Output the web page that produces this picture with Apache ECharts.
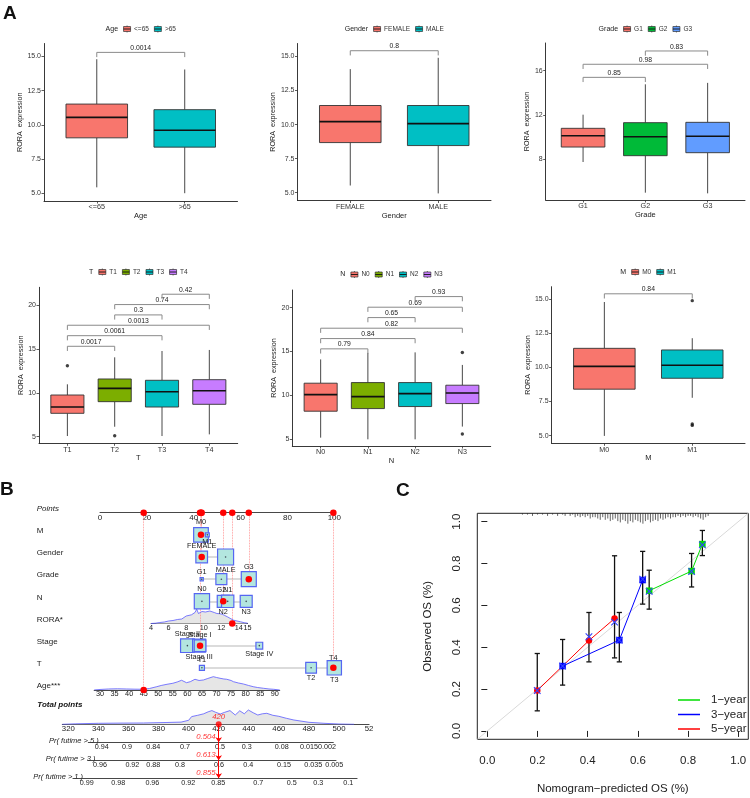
<!DOCTYPE html>
<html>
<head>
<meta charset="utf-8">
<script src="https://cdn.jsdelivr.net/npm/echarts@6/dist/echarts.min.js"></script>
<style>html,body{margin:0;padding:0;background:#fff}#main{width:750px;height:798px}</style>
</head>
<body>
<div id="main"></div>
<script>
var FONT = '"Liberation Sans", Arial, Helvetica, sans-serif';

// ---------- A: boxplots (low whisker, Q1, median, Q3, high whisker) ----------
var ageCats = ['<=65', '>65'];
var ageBox = [[5.43, 9.05, 10.55, 11.52, 14.8], [5.0, 8.37, 9.6, 11.11, 14.05]];
var ageOut = [];
var ageTests = [[0, 1, 15.3, '0.0014']];

var genderCats = ['FEMALE', 'MALE'];
var genderBox = [[5.53, 8.68, 10.22, 11.4, 14.07], [4.95, 8.46, 10.07, 11.4, 14.9]];
var genderOut = [];
var genderTests = [[0, 1, 15.42, '0.8']];

var gradeCats = ['G1', 'G2', 'G3'];
var gradeBox = [[7.76, 9.11, 10.13, 10.8, 12.03], [4.99, 8.33, 10.04, 11.31, 14.77], [4.93, 8.6, 10.08, 11.34, 14.9]];
var gradeOut = [];
var gradeTests = [[0, 1, 15.4, '0.85'], [0, 2, 16.58, '0.98'], [1, 2, 17.78, '0.83']];

var tCats = ['T1', 'T2', 'T3', 'T4'];
var tBox = [[5.08, 7.67, 8.39, 9.76, 10.98], [6.14, 9.0, 10.52, 11.59, 14.06], [5.08, 8.39, 10.14, 11.44, 14.78], [5.27, 8.7, 10.25, 11.51, 14.9]];
var tOut = [[0, 13.1], [1, 5.11]];
var tTests = [[0, 1, 15.32, '0.0017'], [0, 2, 16.53, '0.0061'], [0, 3, 17.72, '0.0013'], [1, 2, 18.9, '0.3'], [1, 3, 20.08, '0.74'], [2, 3, 21.26, '0.42']];

var nCats = ['N0', 'N1', 'N2', 'N3'];
var nBox = [[5.19, 8.2, 10.09, 11.39, 14.1], [5.0, 8.5, 9.86, 11.46, 14.84], [5.0, 8.73, 10.2, 11.46, 14.9], [6.45, 9.07, 10.28, 11.16, 13.47]];
var nOut = [[3, 14.88], [3, 5.6]];
var nTests = [[0, 1, 15.3, '0.79'], [0, 2, 16.47, '0.84'], [0, 3, 17.65, '0.82'], [1, 2, 18.86, '0.65'], [1, 3, 20.04, '0.69'], [2, 3, 21.25, '0.93']];

var mCats = ['M0', 'M1'];
var mBox = [[4.98, 8.4, 10.07, 11.39, 14.78], [7.77, 9.2, 10.15, 11.27, 12.13]];
var mOut = [[1, 14.88], [1, 5.75], [1, 5.85]];
var mTests = [[0, 1, 15.38, '0.84']];

var hue2 = ['#F8766D', '#00BFC4'];
var hue3 = ['#F8766D', '#00BA38', '#619CFF'];
var hue4 = ['#F8766D', '#7CAE00', '#00BFC4', '#C77CFF'];

// ---------- B: nomogram ----------
var nomoRowNames = ['Points', 'M', 'Gender', 'Grade', 'N', 'RORA*', 'Stage', 'T', 'Age***'];
var pointsTicks = [0, 20, 40, 60, 80, 100];
var mLevels = ['M0', 'M1'], mPts = [43.1, 45.8], mN = [84, 6];
var genderLevels = ['FEMALE', 'MALE'], genderPts = [43.4, 53.6], genderN = [53, 100];
var gradeLevels = ['G1', 'G2', 'G3'], gradePts = [43.4, 51.8, 63.5], gradeN = [4, 47, 88];
var nLevels = ['N0', 'N1', 'N2', 'N3'], nPts = [43.5, 54.5, 52.6, 62.4], nN = [91, 59, 56, 56];
var stageLevels = ['Stage I', 'Stage II', 'Stage III', 'Stage IV'], stagePts = [42.7, 37.3, 42.3, 68.0], stageN = [53, 73, 66, 18];
var tLevels = ['T1', 'T2', 'T3', 'T4'], tPts = [43.5, 90.1, 100, 99.6], tN = [10, 45, 80, 39];

var roraTicks = [4, 6, 8, 10, 12, 14, 15];
var roraPtsEnds = [21.8, 63.0];           // points at RORA 4 and 15
var roraDensX = [4.0, 4.5, 5.0, 5.5, 6.0, 6.5, 7.0, 7.5, 8.0, 8.6, 9.0, 9.2, 9.4, 9.6, 9.8, 10.0, 10.2, 10.4, 10.7, 10.9, 11.2, 11.5, 11.8, 12.1, 12.4, 12.7, 13.0, 13.4, 13.8, 14.2, 14.6, 15.0];
var roraDensY = [0.0, 0.3, 1.0, 1.5, 2.5, 3.0, 4.0, 4.5, 7.5, 8.7, 11, 14.3, 10, 9.3, 12, 13.3, 11.5, 11, 12.5, 12, 11, 10, 9.8, 9.3, 8, 6.7, 5.2, 3.3, 2.5, 1.7, 0.8, 0.3];

var ageTicks = [30, 35, 40, 45, 50, 55, 60, 65, 70, 75, 80, 85, 90];
var agePtsEnds = [0, 74.6];               // points at age 30 and 90
var ageDensX = [28, 30, 33, 36, 39, 42, 45, 47, 49.5, 51, 53, 55, 56.5, 58, 59.7, 61, 62.6, 64, 65.5, 67, 68.9, 70, 71.2, 72.5, 73.5, 75, 75.8, 77.5, 79.2, 81, 82.6, 84, 86.1, 88, 89.5, 91.7];
var ageDensY = [0, 0.5, 1, 1.2, 1, 0.8, 0.7, 1.5, 3.3, 4.5, 5.7, 6.7, 8, 9.7, 7.3, 8.3, 10.7, 9.5, 10, 11.5, 13.3, 12.5, 11.7, 11, 10.7, 9.5, 8.3, 7, 6, 4.5, 3.3, 2.5, 1.7, 1, 0.7, 0];

var totalTicks = [320, 340, 360, 380, 400, 420, 440, 460, 480, 500, 520];
var totalDensX = [316, 325, 340, 355, 370, 385, 395, 400, 402, 406, 410, 413, 415.5, 418, 421, 424, 427.5, 431, 434, 437, 439.7, 443, 446, 449, 452, 456, 460, 465, 470, 480, 490, 500, 510];
var totalDensY = [0, 0.5, 1, 1.2, 1.3, 1.8, 2.2, 4, 7.7, 9, 10.5, 12.5, 13.7, 12, 10.3, 12, 13.7, 9.3, 13.5, 10.5, 14.3, 11.5, 9.3, 10.5, 11, 9, 8, 6, 4.3, 2, 1, 0.3, 0];

var pr5Labels = ['0.94', '0.9', '0.84', '0.7', '0.5', '0.3', '0.08', '0.015', '0.002'];
var pr5At = [342.2, 359.0, 376.5, 397.6, 420.9, 438.6, 461.9, 480.1, 492.0];
var pr3Labels = ['0.96', '0.92', '0.88', '0.8', '0.6', '0.4', '0.15', '0.035', '0.005'];
var pr3At = [341.1, 362.6, 376.5, 394.3, 420.2, 439.7, 463.4, 482.9, 496.9];
var pr1Labels = ['0.99', '0.98', '0.96', '0.92', '0.85', '0.7', '0.5', '0.3', '0.1'];
var pr1At = [332.2, 353.2, 375.9, 399.8, 419.7, 446.3, 468.5, 486.2, 506.2];

var patientLevels = ['M0', 'FEMALE', 'G3', 'N2', 'Stage I', 'T4'];
var patientRora = 13.25;
var patientAge = 45;
var survProb = [0.504, 0.613, 0.855];    // 5-, 3-, 1-year

// ---------- C: calibration ----------
var calTicks = [0, 0.2, 0.4, 0.6, 0.8, 1.0];
var cal1Pred = [0.645, 0.814, 0.857], cal1Obs = [0.670, 0.764, 0.893], cal1Lo = [0.582, 0.688, 0.838], cal1Hi = [0.768, 0.848, 0.958], cal1Corr = [0.667, 0.762, 0.889];
var cal3Pred = [0.300, 0.526, 0.619], cal3Obs = [0.310, 0.434, 0.721], cal3Lo = [0.219, 0.330, 0.606], cal3Hi = [0.437, 0.566, 0.858], cal3Corr = [0.31, 0.434, 0.725];
var cal5Pred = [0.199, 0.405, 0.507], cal5Obs = [0.193, 0.432, 0.537], cal5Lo = [0.096, 0.330, 0.349], cal5Hi = [0.370, 0.566, 0.837], cal5Corr = [0.193, 0.45, 0.52];
var rugX = [0.14, 0.16, 0.18, 0.20, 0.22, 0.24, 0.26, 0.28, 0.30, 0.31, 0.33, 0.34, 0.35, 0.36, 0.37, 0.38, 0.39, 0.40, 0.41, 0.42, 0.43, 0.44, 0.45, 0.46, 0.47, 0.48, 0.49, 0.50, 0.51, 0.52, 0.53, 0.54, 0.55, 0.56, 0.57, 0.58, 0.59, 0.60, 0.61, 0.62, 0.63, 0.64, 0.65, 0.66, 0.67, 0.68, 0.69, 0.70, 0.71, 0.72, 0.73, 0.74, 0.75, 0.76, 0.77, 0.78, 0.79, 0.80, 0.81, 0.82, 0.83, 0.84, 0.85, 0.86, 0.87, 0.88];
var rugN = [1, 1, 2, 1, 1, 2, 1, 2, 1, 2, 2, 1, 3, 2, 3, 2, 3, 2, 4, 3, 3, 4, 5, 3, 5, 4, 6, 5, 4, 6, 7, 5, 6, 8, 6, 7, 5, 6, 7, 8, 6, 5, 7, 6, 5, 6, 4, 5, 4, 3, 4, 3, 3, 2, 3, 2, 3, 2, 2, 3, 2, 3, 4, 5, 3, 2];

// ================= build =================
var chart = echarts.init(document.getElementById('main'), null, {renderer: 'canvas'});
var grids = [], xAxes = [], yAxes = [], series = [], graphics = [];

function addGrid(rect, xa, ya) {
  var gi = grids.length;
  grids.push(Object.assign({outerBoundsMode: 'none', containLabel: false, show: false}, rect));
  xAxes.push(Object.assign({gridIndex: gi}, xa));
  yAxes.push(Object.assign({gridIndex: gi}, ya));
  return gi;
}
function hiddenAxis(min, max, inverse) {
  return {type: 'value', min: min, max: max, inverse: !!inverse, show: false};
}

var measureCtx = document.createElement('canvas').getContext('2d');
function textW(t, size) { measureCtx.font = size + 'px ' + FONT; return measureCtx.measureText(t).width; }

function legendA(cx, cy, title, labels, colors) {
  var ts = 7, ls = 6.5, kw = 8, gapTK = 5, gapKL = 3, gapItem = 5;
  var total = textW(title, ts) + gapTK;
  labels.forEach(function (l) { total += kw + gapKL + textW(l, ls) + gapItem; });
  total -= gapItem;
  var x = cx - total / 2;
  var ch = [{type: 'text', x: x, y: cy, style: {text: title, font: ts + 'px ' + FONT, fill: '#222', verticalAlign: 'middle'}}];
  x += textW(title, ts) + gapTK;
  labels.forEach(function (l, i) {
    ch.push({type: 'line', shape: {x1: x + kw / 2, y1: cy - 3.5, x2: x + kw / 2, y2: cy + 3.5}, style: {stroke: '#333', lineWidth: 0.7}});
    ch.push({type: 'rect', shape: {x: x + 0.5, y: cy - 2.5, width: kw - 1, height: 5}, style: {fill: colors[i], stroke: '#333', lineWidth: 0.7}});
    ch.push({type: 'line', shape: {x1: x + 0.5, y1: cy, x2: x + kw - 0.5, y2: cy}, style: {stroke: '#111', lineWidth: 0.9}});
    x += kw + gapKL;
    ch.push({type: 'text', x: x, y: cy, style: {text: l, font: ls + 'px ' + FONT, fill: '#333', verticalAlign: 'middle'}});
    x += textW(l, ls) + gapItem;
  });
  graphics.push({type: 'group', silent: true, children: ch});
}

function renderBox(params, api) {
  var x = api.value(0), hw = 0.35;
  var lo = api.coord([x, api.value(1)]), q1 = api.coord([x, api.value(2)]),
      md = api.coord([x, api.value(3)]), q3 = api.coord([x, api.value(4)]),
      hi = api.coord([x, api.value(5)]);
  var xl = api.coord([x - hw, api.value(3)])[0], xr = api.coord([x + hw, api.value(3)])[0];
  var ln = {stroke: '#333', lineWidth: 0.9};
  return {type: 'group', children: [
    {type: 'line', shape: {x1: lo[0], y1: lo[1], x2: q1[0], y2: q1[1]}, style: ln},
    {type: 'line', shape: {x1: q3[0], y1: q3[1], x2: hi[0], y2: hi[1]}, style: ln},
    {type: 'rect', shape: {x: xl, y: q3[1], width: xr - xl, height: q1[1] - q3[1]}, style: {fill: api.visual('color'), stroke: '#333', lineWidth: 0.9}},
    {type: 'line', shape: {x1: xl, y1: md[1], x2: xr, y2: md[1]}, style: {stroke: '#111', lineWidth: 1.6}}
  ]};
}

function bracketRenderer(tests, tip) {
  return function (params, api) {
    var t = tests[params.dataIndex];
    var a = api.coord([t[0] + 1, t[2]]), b = api.coord([t[1] + 1, t[2]]);
    var a0 = api.coord([t[0] + 1, t[2] - tip]), b0 = api.coord([t[1] + 1, t[2] - tip]);
    return {type: 'group', children: [
      {type: 'polyline', shape: {points: [a0, a, b, b0]}, style: {stroke: '#8a8a8a', lineWidth: 1, fill: null}},
      {type: 'text', x: (a[0] + b[0]) / 2, y: a[1] - 0.8, style: {text: t[3], font: '6.8px ' + FONT, fill: '#222', align: 'center', verticalAlign: 'bottom'}}
    ]};
  };
}

var panels = [
  {cats: ageCats, box: ageBox, out: ageOut, tests: ageTests, colors: hue2, title: 'Age',
   rect: {left: 44, top: 43.5, width: 193.5, height: 157.5}, yr: [4.43, 15.95], ticks: [5, 7.5, 10, 12.5, 15], dec: 1, yGap: 17, legendY: 29},
  {cats: genderCats, box: genderBox, out: genderOut, tests: genderTests, colors: hue2, title: 'Gender',
   rect: {left: 297.5, top: 43.5, width: 193.5, height: 157}, yr: [4.43, 15.95], ticks: [5, 7.5, 10, 12.5, 15], dec: 1, yGap: 17, legendY: 29},
  {cats: gradeCats, box: gradeBox, out: gradeOut, tests: gradeTests, colors: hue3, title: 'Grade',
   rect: {left: 545.7, top: 43, width: 199.3, height: 157}, yr: [4.33, 18.5], ticks: [8, 12, 16], dec: 0, yGap: 12, legendY: 29},
  {cats: tCats, box: tBox, out: tOut, tests: tTests, colors: hue4, title: 'T',
   rect: {left: 39, top: 287.3, width: 198.7, height: 156}, yr: [4.25, 22.05], ticks: [5, 10, 15, 20], dec: 0, yGap: 12.5, legendY: 272},
  {cats: nCats, box: nBox, out: nOut, tests: nTests, colors: hue4, title: 'N',
   rect: {left: 292.3, top: 290, width: 198.4, height: 156}, yr: [4.24, 22.0], ticks: [5, 10, 15, 20], dec: 0, yGap: 12.5, legendY: 274.5},
  {cats: mCats, box: mBox, out: mOut, tests: mTests, colors: hue2, title: 'M',
   rect: {left: 551.6, top: 286.7, width: 193.4, height: 156.6}, yr: [4.44, 15.9], ticks: [5, 7.5, 10, 12.5, 15], dec: 1, yGap: 17, legendY: 272}
];

panels.forEach(function (p) {
  var idx = p.cats.map(function (c, i) { return i + 1; });
  var axLine = {show: true, onZero: false, lineStyle: {color: '#222', width: 0.9}};
  var gi = addGrid(p.rect, {
    type: 'value', min: 0.4, max: p.cats.length + 0.6,
    axisLine: axLine,
    axisTick: {show: true, length: 2.5, customValues: idx, lineStyle: {color: '#333', width: 0.8}},
    axisLabel: {customValues: idx, formatter: function (v) { return p.cats[Math.round(v) - 1]; }, fontSize: 7.2, color: '#333', margin: 3, fontFamily: FONT},
    splitLine: {show: false},
    name: p.title, nameLocation: 'middle', nameGap: 11, nameTextStyle: {fontSize: 7.5, color: '#222', fontFamily: FONT}
  }, {
    type: 'value', min: p.yr[0], max: p.yr[1],
    axisLine: axLine,
    axisTick: {show: true, length: 2.5, customValues: p.ticks, lineStyle: {color: '#333', width: 0.8}},
    axisLabel: {customValues: p.ticks, formatter: function (v) { return v.toFixed(p.dec); }, fontSize: 7, color: '#333', margin: 3, fontFamily: FONT},
    splitLine: {show: false},
    name: 'RORA  expression', nameLocation: 'middle', nameGap: p.yGap, nameTextStyle: {fontSize: 7.2, color: '#222', fontFamily: FONT}
  });
  series.push({type: 'custom', xAxisIndex: gi, yAxisIndex: gi, renderItem: renderBox, silent: true,
    data: p.box.map(function (s, i) { return {value: [i + 1].concat(s), itemStyle: {color: p.colors[i]}}; })});
  series.push({type: 'custom', xAxisIndex: gi, yAxisIndex: gi, silent: true,
    renderItem: bracketRenderer(p.tests, 0.03 * (p.yr[1] - p.yr[0])),
    data: p.tests.map(function (t) { return [t[0] + 1, t[2]]; })});
  if (p.out.length) {
    series.push({type: 'scatter', xAxisIndex: gi, yAxisIndex: gi, silent: true, symbolSize: 3.4,
      itemStyle: {color: '#111'}, data: p.out.map(function (o) { return [o[0] + 1, o[1]]; })});
  }
  legendA(p.rect.left + p.rect.width / 2, p.legendY, p.title, p.cats, p.colors);
});

// ---------- B layout ----------
var P0X = 100, PXPT = 2.343, ROW0Y = 512.7, ROWGAP = 22.16;
var TP0X = 68.3, TPPX = 1.504;
function tpX(tp) { return TP0X + (tp - 320) * TPPX; }
function roraPts(v) { return roraPtsEnds[0] + (v - 4) / 11 * (roraPtsEnds[1] - roraPtsEnds[0]); }
function agePts(v) { return agePtsEnds[0] + (v - 30) / 60 * (agePtsEnds[1] - agePtsEnds[0]); }

function nomoAxis(min, max, ticks, fmt, size) {
  return {type: 'value', min: min, max: max,
    axisLine: {show: true, onZero: false, lineStyle: {color: '#333', width: 0.9}},
    axisTick: {show: false}, splitLine: {show: false},
    axisLabel: {customValues: ticks, formatter: fmt, fontSize: size, color: '#222', margin: 1, fontFamily: FONT,
      hideOverlap: false, showMinLabel: true, showMaxLabel: true}};
}
function nearestLabel(at, labels) {
  return function (v) {
    var best = 0;
    at.forEach(function (a, i) { if (Math.abs(a - v) < Math.abs(at[best] - v)) best = i; });
    return labels[best];
  };
}

// points axis
addGrid({left: P0X, width: 100 * PXPT, top: ROW0Y - 1, height: 1},
  nomoAxis(0, 100, pointsTicks, null, 8), hiddenAxis(0, 1));

// rows grid
var NG = addGrid({left: P0X, width: 100 * PXPT, top: ROW0Y, height: ROWGAP * 8},
  hiddenAxis(0, 100), hiddenAxis(0, 8, true));

var RG = addGrid({left: P0X + roraPts(4) * PXPT, width: (roraPts(15) - roraPts(4)) * PXPT, top: ROW0Y + 5 * ROWGAP - 16, height: 16},
  nomoAxis(4, 15, roraTicks, null, 7.3), hiddenAxis(0, 16));
var AG = addGrid({left: P0X + agePts(28) * PXPT, width: (agePts(91.7) - agePts(28)) * PXPT, top: ROW0Y + 8 * ROWGAP - 16, height: 16},
  nomoAxis(28, 91.7, ageTicks, null, 7.3), hiddenAxis(0, 16));
var TOTY = 724.3, PRGAP = 18;
var TG = addGrid({left: tpX(316), width: (520 - 316) * TPPX, top: TOTY - 16, height: 16},
  nomoAxis(316, 520, totalTicks, function (v) { return v === 520 ? '52' : String(v); }, 7.8), hiddenAxis(0, 16));
[[pr5At, pr5Labels, 333.3, 496.2], [pr3At, pr3Labels, 333.1, 498], [pr1At, pr1Labels, 323.1, 512]].forEach(function (a, k) {
  addGrid({left: tpX(a[2]), width: (a[3] - a[2]) * TPPX, top: TOTY + (k + 1) * PRGAP - 1, height: 1},
    nomoAxis(a[2], a[3], a[0], nearestLabel(a[0], a[1]), 7.2), hiddenAxis(0, 1));
});
var WG = addGrid({left: tpX(316), width: (520 - 316) * TPPX, top: TOTY, height: PRGAP * 3},
  hiddenAxis(316, 520), hiddenAxis(0, 3, true));

function densitySeries(gi, xs, ys) {
  return {type: 'line', xAxisIndex: gi, yAxisIndex: gi, silent: true, symbol: 'none',
    data: xs.map(function (x, i) { return [x, ys[i]]; }),
    lineStyle: {color: '#5a5aff', width: 0.8}, areaStyle: {color: '#e6e6e6', origin: 'start', opacity: 1}};
}
series.push(densitySeries(RG, roraDensX, roraDensY));
series.push(densitySeries(AG, ageDensX, ageDensY));
series.push(densitySeries(TG, totalDensX, totalDensY));

var factors = [
  [1, mLevels, mPts, mN], [2, genderLevels, genderPts, genderN], [3, gradeLevels, gradePts, gradeN],
  [4, nLevels, nPts, nN], [6, stageLevels, stagePts, stageN], [7, tLevels, tPts, tN]
];
var rangeLines = [], boxes = [], centers = [], redDots = [], redLines = [];
var totalPts = 0;
factors.forEach(function (f) {
  var row = f[0], lv = f[1], pts = f[2], n = f[3];
  rangeLines.push({coords: [[Math.min.apply(null, pts), row], [Math.max.apply(null, pts), row]]});
  var order = pts.map(function (p, i) { return i; }).sort(function (a, b) { return pts[a] - pts[b]; });
  order.forEach(function (i, k) {
    boxes.push({value: [pts[i], row, n[i]], name: lv[i], label: {position: k % 2 === 0 ? 'top' : 'bottom'}});
    centers.push([pts[i], row]);
    if (patientLevels.indexOf(lv[i]) >= 0) {
      redDots.push([pts[i], row]);
      redLines.push({coords: [[pts[i], 0], [pts[i], row]]});
      redDots.push([pts[i], 0]);
      totalPts += pts[i];
    }
  });
});
[[5, roraPts(patientRora)], [8, agePts(patientAge)]].forEach(function (r) {
  redDots.push([r[1], r[0]], [r[1], 0]);
  redLines.push({coords: [[r[1], 0], [r[1], r[0]]]});
  totalPts += r[1];
});

series.push({type: 'lines', coordinateSystem: 'cartesian2d', xAxisIndex: NG, yAxisIndex: NG, silent: true, z: 2,
  data: rangeLines, lineStyle: {color: '#cfcfcf', width: 1.5, opacity: 1}});
series.push({type: 'lines', coordinateSystem: 'cartesian2d', xAxisIndex: NG, yAxisIndex: NG, silent: true, z: 3,
  data: redLines, lineStyle: {color: '#ff8080', width: 0.8, type: 'dotted', opacity: 1}});
series.push({type: 'scatter', xAxisIndex: NG, yAxisIndex: NG, silent: true, z: 4, symbol: 'rect',
  symbolSize: function (v) { return 1.6 * Math.sqrt(v[2]); },
  itemStyle: {color: '#b3e6df', borderColor: '#5566f2', borderWidth: 1.2, opacity: 1},
  label: {show: true, formatter: '{b}', fontSize: 7.3, color: '#222', distance: 1, fontFamily: FONT},
  data: boxes});
series.push({type: 'scatter', xAxisIndex: NG, yAxisIndex: NG, silent: true, z: 5, symbolSize: 1.6,
  itemStyle: {color: '#223'}, data: centers});
series.push({type: 'scatter', xAxisIndex: NG, yAxisIndex: NG, silent: true, z: 6, symbolSize: 6.5,
  itemStyle: {color: '#ff0000', opacity: 1}, data: redDots});

series.push({type: 'lines', coordinateSystem: 'cartesian2d', xAxisIndex: WG, yAxisIndex: WG, silent: true, z: 5,
  symbol: ['none', 'arrow'], symbolSize: 5,
  lineStyle: {color: '#ff0000', width: 1, opacity: 1},
  data: [0, 1, 2].map(function (k) { return {coords: [[totalPts, k], [totalPts, k + 1]]}; })});
series.push({type: 'scatter', xAxisIndex: WG, yAxisIndex: WG, silent: true, z: 6, symbolSize: 6,
  itemStyle: {color: '#ff0000'}, data: [[totalPts, 0]],
  label: {show: true, position: 'top', distance: 0, formatter: function () { return Math.round(totalPts); },
    fontSize: 7.8, fontStyle: 'italic', color: '#ff0000', fontFamily: FONT}});
series.push({type: 'scatter', xAxisIndex: WG, yAxisIndex: WG, silent: true, z: 6, symbolSize: 0,
  data: survProb.map(function (p, k) { return {value: [totalPts, k + 1], name: p.toFixed(3)}; }),
  label: {show: true, position: 'left', distance: 3, offset: [0, -5.5], formatter: '{b}',
    fontSize: 7.8, fontStyle: 'italic', color: '#ff0000', fontFamily: FONT}});

nomoRowNames.forEach(function (name, i) {
  graphics.push({type: 'text', x: 36.7, y: ROW0Y + i * ROWGAP - 4, silent: true,
    style: {text: name, font: (i === 0 ? 'italic ' : '') + '8px ' + FONT, fill: '#222', verticalAlign: 'middle'}});
});
graphics.push({type: 'text', x: 37.3, y: 705, silent: true, style: {text: 'Total points', font: 'italic bold 8px ' + FONT, fill: '#111', verticalAlign: 'middle'}});
[['Pr( futime > 5 )', 49, 740.7], ['Pr( futime > 3 )', 45.7, 759.3], ['Pr( futime > 1 )', 33.3, 777.3]].forEach(function (l) {
  graphics.push({type: 'text', x: l[1], y: l[2], silent: true, style: {text: l[0], font: 'italic 7.5px ' + FONT, fill: '#222', verticalAlign: 'middle'}});
});

// ---------- C ----------
var CG = addGrid({left: 477.3, top: 513.3, width: 271, height: 226, show: true, borderColor: '#222', borderWidth: 1, backgroundColor: 'transparent'}, {
  type: 'value', min: -0.04, max: 1.04,
  axisLine: {show: false}, splitLine: {show: false},
  axisTick: {show: true, customValues: calTicks, length: 6, lineStyle: {color: '#222', width: 1}},
  axisLabel: {customValues: calTicks, formatter: function (v) { return v.toFixed(1); }, fontSize: 11.5, color: '#222', margin: 16, fontFamily: FONT},
  name: 'Nomogram\u2212predicted OS (%)', nameLocation: 'middle', nameGap: 44, nameTextStyle: {fontSize: 11.5, color: '#222', fontFamily: FONT}
}, {
  type: 'value', min: -0.04, max: 1.04,
  axisLine: {show: false}, splitLine: {show: false},
  axisTick: {show: true, customValues: calTicks, length: 6, lineStyle: {color: '#222', width: 1}},
  axisLabel: {customValues: calTicks, rotate: 90, formatter: function (v) { return v.toFixed(1); }, fontSize: 11.5, color: '#222', margin: 14, fontFamily: FONT},
  name: 'Observed OS (%)', nameLocation: 'middle', nameGap: 43, nameTextStyle: {fontSize: 11.5, color: '#222', fontFamily: FONT}
});
series.push({type: 'line', xAxisIndex: CG, yAxisIndex: CG, silent: true, symbol: 'none', z: 1,
  data: [[-0.04, -0.04], [1.04, 1.04]], lineStyle: {color: '#d9d9d9', width: 1}});
series.push({type: 'custom', xAxisIndex: CG, yAxisIndex: CG, silent: true, z: 2,
  data: rugX.map(function (x, i) { return [x, rugN[i]]; }),
  renderItem: function (params, api) {
    var p = api.coord([api.value(0), 1.04]);
    return {type: 'line', shape: {x1: p[0], y1: p[1], x2: p[0], y2: p[1] + api.value(1) * 1.3}, style: {stroke: '#222', lineWidth: 0.7}};
  }});
var errData = [];
[[cal1Pred, cal1Lo, cal1Hi], [cal3Pred, cal3Lo, cal3Hi], [cal5Pred, cal5Lo, cal5Hi]].forEach(function (c) {
  c[0].forEach(function (x, i) { errData.push([x, c[1][i], c[2][i]]); });
});
series.push({type: 'custom', xAxisIndex: CG, yAxisIndex: CG, silent: true, z: 3, data: errData,
  renderItem: function (params, api) {
    var a = api.coord([api.value(0), api.value(1)]), b = api.coord([api.value(0), api.value(2)]);
    var st = {stroke: '#111', lineWidth: 1.3};
    return {type: 'group', children: [
      {type: 'line', shape: {x1: a[0], y1: a[1], x2: b[0], y2: b[1]}, style: st},
      {type: 'line', shape: {x1: a[0] - 2.6, y1: a[1], x2: a[0] + 2.6, y2: a[1]}, style: st},
      {type: 'line', shape: {x1: b[0] - 2.6, y1: b[1], x2: b[0] + 2.6, y2: b[1]}, style: st}
    ]};
  }});
function calLine(name, xs, ys, color, symbol) {
  return {type: 'line', name: name, xAxisIndex: CG, yAxisIndex: CG, silent: true, z: 4,
    data: xs.map(function (x, i) { return [x, ys[i]]; }),
    symbol: symbol, symbolSize: 6.5, showSymbol: true,
    lineStyle: {color: color, width: 1}, itemStyle: {color: color, opacity: 1}};
}
series.push(calLine('1\u2212year', cal1Pred, cal1Obs, '#00dd00', 'rect'));
series.push(calLine('3\u2212year', cal3Pred, cal3Obs, '#0000ff', 'rect'));
series.push(calLine('5\u2212year', cal5Pred, cal5Obs, '#ff0000', 'circle'));
var corrData = [];
[[cal1Pred, cal1Corr], [cal3Pred, cal3Corr], [cal5Pred, cal5Corr]].forEach(function (c) {
  c[0].forEach(function (x, i) { corrData.push([x, c[1][i]]); });
});
series.push({type: 'custom', xAxisIndex: CG, yAxisIndex: CG, silent: true, z: 5, data: corrData,
  renderItem: function (params, api) {
    var p = api.coord([api.value(0), api.value(1)]), r = 3.3;
    var st = {stroke: '#3344ff', lineWidth: 1.1};
    return {type: 'group', children: [
      {type: 'line', shape: {x1: p[0] - r, y1: p[1] - r, x2: p[0] + r, y2: p[1] + r}, style: st},
      {type: 'line', shape: {x1: p[0] - r, y1: p[1] + r, x2: p[0] + r, y2: p[1] - r}, style: st}
    ]};
  }});

[['A', 3, 14], ['B', 0, 490], ['C', 396, 491]].forEach(function (l) {
  graphics.push({type: 'text', x: l[1], y: l[2], silent: true, style: {text: l[0], font: 'bold 19px ' + FONT, fill: '#111', verticalAlign: 'middle'}});
});

chart.setOption({
  animation: false,
  backgroundColor: '#fff',
  textStyle: {fontFamily: FONT},
  grid: grids,
  xAxis: xAxes,
  yAxis: yAxes,
  legend: [{
    data: ['1\u2212year', '3\u2212year', '5\u2212year'], orient: 'vertical', left: 673, top: 689,
    icon: 'rect', itemWidth: 22, itemHeight: 1.5, itemGap: 2.5, selectedMode: false,
    textStyle: {fontSize: 11.5, color: '#222', fontFamily: FONT, padding: [0, 0, 0, 6]}
  }],
  graphic: {elements: graphics},
  series: series
});
</script>
</body>
</html>
